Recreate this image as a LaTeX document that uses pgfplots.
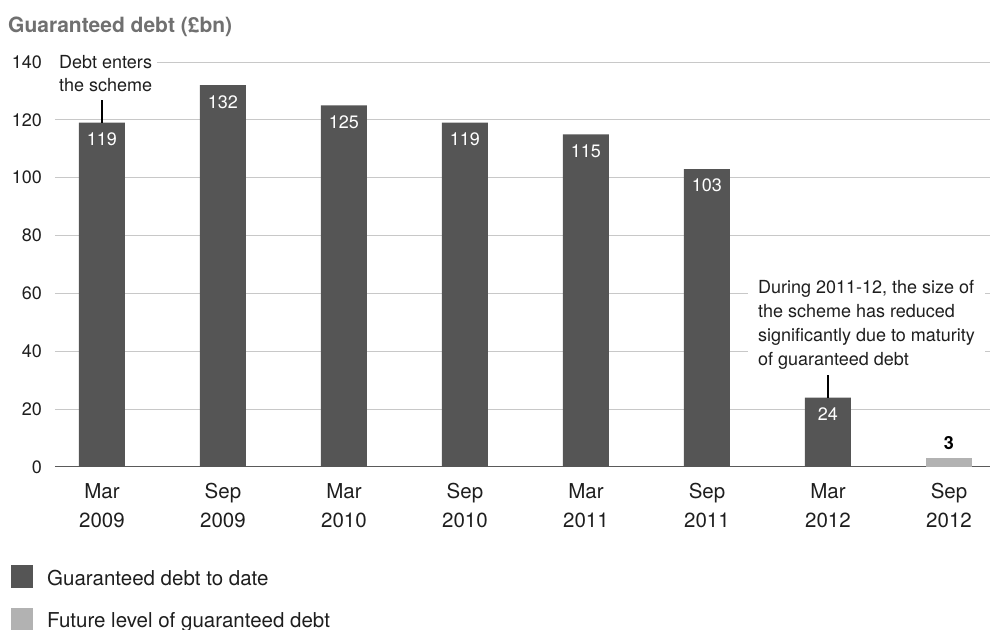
\documentclass[border=0pt]{standalone}
\usepackage{fontspec}
\setmainfont{TeX Gyre Heros}
\usepackage{pgfplots}
\pgfplotsset{compat=1.18}
\definecolor{bardark}{HTML}{555555}
\definecolor{barlight}{HTML}{B2B2B2}
\definecolor{gridc}{HTML}{C8C8C8}
\definecolor{axisc}{HTML}{5A5A5A}
\definecolor{titlec}{HTML}{707070}
\definecolor{txt}{HTML}{1E1E1E}
\begin{document}
\begin{tikzpicture}[x=1bp,y=1bp]
\useasboundingbox (-55,-163) rectangle (935,467);
\begin{axis}[
  at={(0,0)}, anchor=south west,
  scale only axis, width=935bp, height=405bp,
  xmin=-0.388, xmax=7.339, ymin=0, ymax=140,
  axis line style={draw=none},
  major tick length=0pt,
  xtick={0,1,2,3,4,5,6,7},
  xticklabels={{Mar\\2009},{Sep\\2009},{Mar\\2010},{Sep\\2010},{Mar\\2011},{Sep\\2011},{Mar\\2012},{Sep\\2012}},
  xticklabel style={align=center, anchor=north, inner sep=0pt, yshift=-16bp, font=\fontsize{20.5bp}{29bp}\selectfont, text=txt},
  ytick={20,40,60,80,100,120,140},
  extra y ticks={0},
  extra y tick style={grid style={color=axisc, line width=1bp}},
  yticklabel style={anchor=east, inner sep=0pt, xshift=-13bp, font=\fontsize{18bp}{20bp}\selectfont, text=txt},
  ymajorgrids, grid style={color=gridc, line width=0.8bp},
  /pgf/number format/assume math mode=true,
  clip=false,
]
\addplot[ybar, bar width=46bp, bar shift=0pt, fill=bardark, draw=none,
  nodes near coords,
  nodes near coords style={anchor=north, inner sep=0pt, yshift=-10bp, text=white, font=\fontsize{18bp}{20bp}\selectfont}]
  coordinates {(0,119) (1,132) (2,125) (3,119) (4,115) (5,103) (6,24)};
\addplot[ybar, bar width=46bp, bar shift=0pt, fill=barlight, draw=none,
  nodes near coords,
  nodes near coords style={anchor=south, inner sep=0pt, yshift=8bp, text=black, font=\bfseries\fontsize{18bp}{20bp}\selectfont}]
  coordinates {(7,3)};
\node[anchor=north west, align=left, fill=white, inner xsep=5bp, inner ysep=3bp, xshift=-5bp, yshift=3bp,
  font=\fontsize{18bp}{23.5bp}\selectfont, text=txt] at (axis cs:-0.355,142.4) {Debt enters\\the scheme};
\draw[black, line width=1.2bp] (axis cs:0,119) -- (axis cs:0,127);
\node[anchor=north west, align=left, fill=white, inner xsep=10bp, inner ysep=3bp, xshift=-10bp, yshift=3bp,
  font=\fontsize{18bp}{24bp}\selectfont, text=txt] at (axis cs:5.421,64.6)
  {During 2011-12, the size of\\the scheme has reduced\\significantly due to maturity\\of guaranteed debt};
\draw[black, line width=1.2bp] (axis cs:6,24) -- (axis cs:6,31.8);
\end{axis}
\node[anchor=base west, inner sep=0pt, font=\bfseries\fontsize{21bp}{25bp}\selectfont, text=titlec] at (-47,434.5) {Guaranteed debt (£bn)};
\fill[bardark] (-44,-121) rectangle (-22,-98);
\node[anchor=base west, inner sep=0pt, font=\fontsize{20.5bp}{25bp}\selectfont, text=txt] at (-8,-119) {Guaranteed debt to date};
\fill[barlight] (-44,-163) rectangle (-22,-141);
\node[anchor=base west, inner sep=0pt, font=\fontsize{20.5bp}{25bp}\selectfont, text=txt] at (-8,-161) {Future level of guaranteed debt};
\end{tikzpicture}
\end{document}
